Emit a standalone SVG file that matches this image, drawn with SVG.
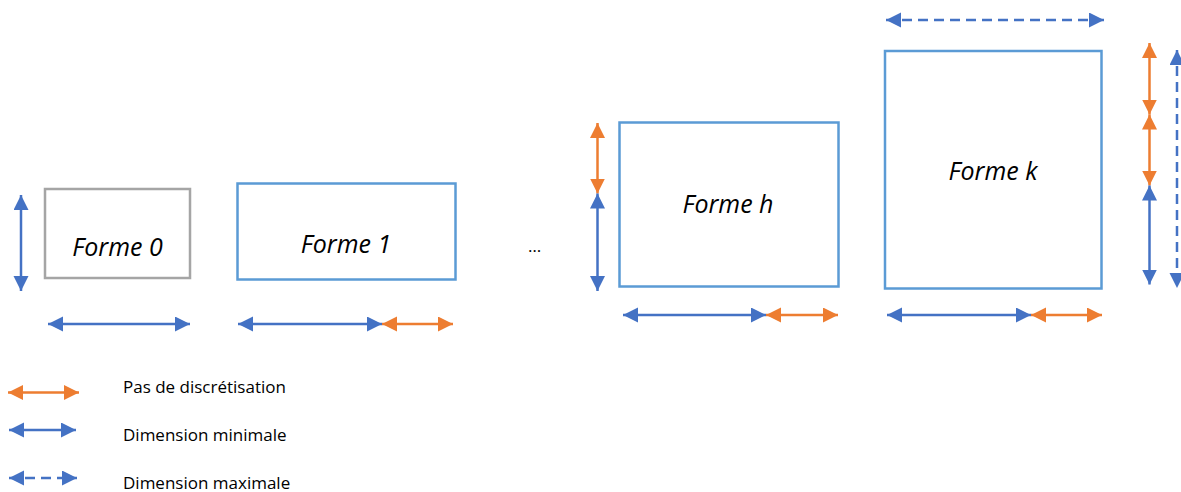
<svg xmlns="http://www.w3.org/2000/svg" width="1181" height="492" viewBox="0 0 1181 492">
<style>
.shape{fill:#FFFFFF;stroke-width:2.5}
.gray{stroke:#A5A5A5}
.blue{stroke:#5B9BD5}
.lbl{font-family:"Open Sans","Liberation Sans",sans-serif;font-style:italic;font-size:25px;fill:#000;text-anchor:middle}
.leg{font-family:"Open Sans","Liberation Sans",sans-serif;font-size:17px;fill:#000}
.ab{stroke:#4472C4;stroke-width:2.5;fill:none;marker-start:url(#hb);marker-end:url(#hb)}
.ao{stroke:#ED7D31;stroke-width:2.5;fill:none;marker-start:url(#ho);marker-end:url(#ho)}
.dash{stroke-dasharray:10 6}
</style>
<defs>
<marker id="hb" markerUnits="userSpaceOnUse" markerWidth="16" markerHeight="16" refX="15" refY="7.5" orient="auto-start-reverse" viewBox="0 0 16 16"><path d="M0,0 L15,7.5 L0,15 z" fill="#4472C4"/></marker>
<marker id="ho" markerUnits="userSpaceOnUse" markerWidth="16" markerHeight="16" refX="15" refY="7.5" orient="auto-start-reverse" viewBox="0 0 16 16"><path d="M0,0 L15,7.5 L0,15 z" fill="#ED7D31"/></marker>
</defs>
<g id="forme0">
<rect class="shape gray" x="45" y="189" width="145" height="89"/>
<text class="lbl" x="117.5" y="256">Forme 0</text>
</g>
<g id="forme1">
<rect class="shape blue" x="237.5" y="183.5" width="218" height="96"/>
<text class="lbl" x="346" y="253">Forme 1</text>
</g>
<g id="ellipsis">
<text class="leg" x="528" y="252">…</text>
</g>
<g id="formeh">
<rect class="shape blue" x="619.5" y="122.5" width="219" height="164"/>
<text class="lbl" x="728" y="213">Forme h</text>
</g>
<g id="formek">
<rect class="shape blue" x="885" y="51" width="216.5" height="237.5"/>
<text class="lbl" x="993" y="180">Forme k</text>
</g>
<g id="connectors">
<line class="ab" x1="21" y1="195" x2="21" y2="291"/>
<line class="ab" x1="48" y1="324" x2="190" y2="324"/>
<line class="ab" x1="238" y1="324" x2="382" y2="324"/>
<line class="ao" x1="382" y1="324" x2="453" y2="324"/>
<line class="ao" x1="597.5" y1="123" x2="597.5" y2="193.5"/>
<line class="ab" x1="597.5" y1="193.5" x2="597.5" y2="291"/>
<line class="ab" x1="623" y1="315" x2="766" y2="315"/>
<line class="ao" x1="766" y1="315" x2="838" y2="315"/>
<line class="ab dash" x1="886" y1="20" x2="1104" y2="20"/>
<line class="ao" x1="1149.5" y1="43" x2="1149.5" y2="114.5"/>
<line class="ao" x1="1149.5" y1="114.5" x2="1149.5" y2="185.5"/>
<line class="ab" x1="1149.5" y1="185.5" x2="1149.5" y2="284.5"/>
<line class="ab dash" x1="1177" y1="50" x2="1177" y2="288"/>
<line class="ab" x1="887" y1="315" x2="1031" y2="315"/>
<line class="ao" x1="1031" y1="315" x2="1102" y2="315"/>
</g>
<g id="legend">
<line class="ao" x1="8" y1="392.5" x2="79" y2="392.5"/>
<text class="leg" x="123" y="393">Pas de discrétisation</text>
<line class="ab" x1="9" y1="430" x2="76" y2="430"/>
<text class="leg" x="123" y="441">Dimension minimale</text>
<line class="ab dash" x1="9" y1="478" x2="77" y2="478"/>
<text class="leg" x="123" y="489">Dimension maximale</text>
</g>
</svg>
